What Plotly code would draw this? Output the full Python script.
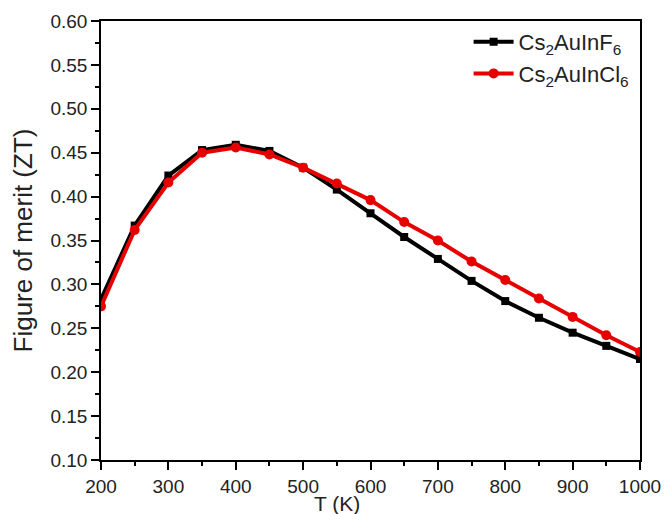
import plotly.graph_objects as go

T = [200, 250, 300, 350, 400, 450, 500, 550, 600, 650, 700, 750, 800, 850, 900, 950, 1000]
zt_f = [0.283, 0.367, 0.424, 0.453, 0.459, 0.452, 0.433, 0.408, 0.381, 0.354, 0.329, 0.304, 0.281, 0.262, 0.245, 0.230, 0.215]
zt_cl = [0.275, 0.362, 0.416, 0.450, 0.456, 0.448, 0.433, 0.415, 0.396, 0.371, 0.350, 0.326, 0.305, 0.284, 0.263, 0.242, 0.223]

FONT = "Liberation Sans, Arial, sans-serif"

fig = go.Figure()
fig.add_trace(go.Scatter(x=T, y=zt_f, mode="lines+markers", name="Cs<sub>2</sub>AuInF<sub>6</sub>",
                         line=dict(color="black", width=4),
                         marker=dict(symbol="square", size=8, color="black")))
fig.add_trace(go.Scatter(x=T, y=zt_cl, mode="lines+markers", name="Cs<sub>2</sub>AuInCl<sub>6</sub>",
                         line=dict(color="#e60000", width=4),
                         marker=dict(symbol="circle", size=10, color="#e60000")))

axis_common = dict(showline=True, linecolor="black", linewidth=1.5, mirror=True,
                   ticks="outside", ticklen=8, tickwidth=1.5, tickcolor="black",
                   showgrid=False, zeroline=False, automargin=False,
                   tickfont=dict(family=FONT, size=19, color="#222"))

fig.update_xaxes(range=[200, 1000], dtick=100, tick0=200,
                 minor=dict(ticks="outside", ticklen=4, dtick=50, tickcolor="black", tickwidth=1.5),
                 **axis_common)
fig.update_yaxes(range=[0.10, 0.60], dtick=0.05, tick0=0.10, tickformat=".2f",
                 minor=dict(ticks="outside", ticklen=4, dtick=0.025, tickcolor="black", tickwidth=1.5),
                 title=dict(text="Figure of merit (ZT)", font=dict(family=FONT, size=26, color="#222"), standoff=10),
                 **axis_common)

fig.add_annotation(text="T (K)", xref="paper", yref="paper", x=0.438, y=-0.098,
                   xanchor="center", yanchor="middle", showarrow=False,
                   font=dict(family=FONT, size=21, color="#222"))

fig.update_layout(
    width=665, height=514,
    margin=dict(l=101, r=25, t=21, b=54),
    paper_bgcolor="white", plot_bgcolor="white",
    showlegend=True,
    legend=dict(x=0.99, y=1.0, xanchor="right", yanchor="top",
                font=dict(family=FONT, size=22, color="#222"),
                bgcolor="rgba(0,0,0,0)", tracegroupgap=0, itemwidth=40),
)

fig.write_html("out.html")
